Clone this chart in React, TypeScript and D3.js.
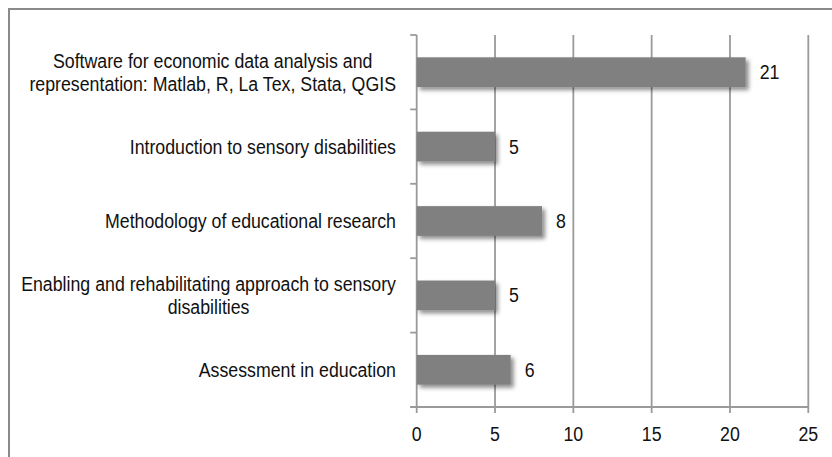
import React, { useEffect, useRef } from "react";
import * as d3 from "d3";

const categories: string[][] = [
  ["Software for economic data analysis and", "representation: Matlab, R, La Tex, Stata, QGIS"],
  ["Introduction to sensory disabilities"],
  ["Methodology of educational research"],
  ["Enabling and rehabilitating approach to sensory", "disabilities"],
  ["Assessment in education"],
];
const values: number[] = [21, 5, 8, 5, 6];
const xTicks: number[] = [0, 5, 10, 15, 20, 25];

const W = 832;
const H = 457;
const FONT = "'Liberation Sans', Arial, sans-serif";
const FS = 21;
const SX = 0.845;

export default function App() {
  const ref = useRef<SVGSVGElement | null>(null);

  useEffect(() => {
    const svg = d3.select(ref.current);
    svg.selectAll("*").remove();

    const x = d3.scaleLinear().domain([0, 25]).range([416.7, 808.3]);
    const keys = categories.map((_, i) => String(i));
    const y = d3.scaleBand<string>().domain(keys).range([35, 407]).paddingInner(0.6).paddingOuter(0.3);
    const step = y.step();
    const top = 35, bottom = 407;
    const gridColor = "#9a9a9a";

    const defs = svg.append("defs");
    const f = defs.append("filter").attr("id", "shadow").attr("x", "-10%").attr("y", "-30%").attr("width", "130%").attr("height", "180%");
    f.append("feDropShadow").attr("dx", 3).attr("dy", 3).attr("stdDeviation", 2).attr("flood-color", "#000").attr("flood-opacity", 0.45);

    // frame
    svg.append("line").attr("x1", 8).attr("x2", W).attr("y1", 9).attr("y2", 9).attr("stroke", "#8a8a8a").attr("stroke-width", 2);
    svg.append("line").attr("x1", 9).attr("x2", 9).attr("y1", 8).attr("y2", H).attr("stroke", "#8a8a8a").attr("stroke-width", 2);

    // gridlines
    svg.append("g").selectAll("line").data(xTicks.filter((t) => t > 0)).join("line")
      .attr("x1", (d) => x(d)).attr("x2", (d) => x(d)).attr("y1", top).attr("y2", bottom)
      .attr("stroke", gridColor).attr("stroke-width", 1.8);

    // y axis line
    svg.append("line").attr("x1", x(0)).attr("x2", x(0)).attr("y1", top).attr("y2", bottom).attr("stroke", gridColor).attr("stroke-width", 1.8);
    // y ticks at boundaries
    const bounds = d3.range(categories.length + 1).map((i) => top + i * step);
    svg.append("g").selectAll("line").data(bounds).join("line")
      .attr("x1", x(0) - 6.5).attr("x2", x(0)).attr("y1", (d) => d).attr("y2", (d) => d)
      .attr("stroke", gridColor).attr("stroke-width", 1.8);
    // x axis line
    svg.append("line").attr("x1", x(0) - 6.5).attr("x2", x(25)).attr("y1", bottom).attr("y2", bottom).attr("stroke", gridColor).attr("stroke-width", 1.8);
    svg.append("g").selectAll("line").data(xTicks).join("line")
      .attr("x1", (d) => x(d)).attr("x2", (d) => x(d)).attr("y1", bottom).attr("y2", bottom + 6)
      .attr("stroke", gridColor).attr("stroke-width", 1.8);
    svg.append("g").selectAll("text").data(xTicks).join("text")
      .attr("transform", (d) => `translate(${x(d)},441) scale(${SX},1)`).attr("text-anchor", "middle")
      .attr("font-family", FONT).attr("font-size", FS).attr("fill", "#111").text((d) => String(d));

    // bars
    svg.append("g").selectAll("rect").data(values).join("rect")
      .attr("x", x(0)).attr("y", (_, i) => y(String(i))!)
      .attr("width", (d) => x(d) - x(0)).attr("height", y.bandwidth())
      .attr("fill", "#808080").attr("filter", "url(#shadow)");

    // value labels
    svg.append("g").selectAll("text").data(values).join("text")
      .attr("transform", (d, i) => `translate(${x(d) + 14},${y(String(i))! + y.bandwidth() / 2 + 7}) scale(${SX},1)`)
      .attr("font-family", FONT).attr("font-size", FS).attr("fill", "#111").text((d) => String(d));

    // category labels
    const rightEdge = 396;
    const lineH = 23;
    categories.forEach((lines, i) => {
      const cy = y(String(i))! + y.bandwidth() / 2;
      const g = svg.append("g");
      const texts = lines.map((l) =>
        g.append("text").attr("font-family", FONT).attr("font-size", FS).attr("fill", "#111")
          .attr("text-anchor", "middle").text(l)
      );
      const widths = texts.map((t) => (t.node() as SVGTextElement).getComputedTextLength() * SX);
      const maxW = Math.max(...widths);
      const cx = rightEdge - maxW / 2;
      texts.forEach((t, j) => {
        const ty = cy + (j - (lines.length - 1) / 2) * lineH + 7;
        t.attr("transform", `translate(${cx},${ty}) scale(${SX},1)`);
      });
    });
  }, []);

  return (
    <svg ref={ref} width={W} height={H} style={{ position: "absolute", left: 0, top: 0, background: "#fff" }} />
  );
}
